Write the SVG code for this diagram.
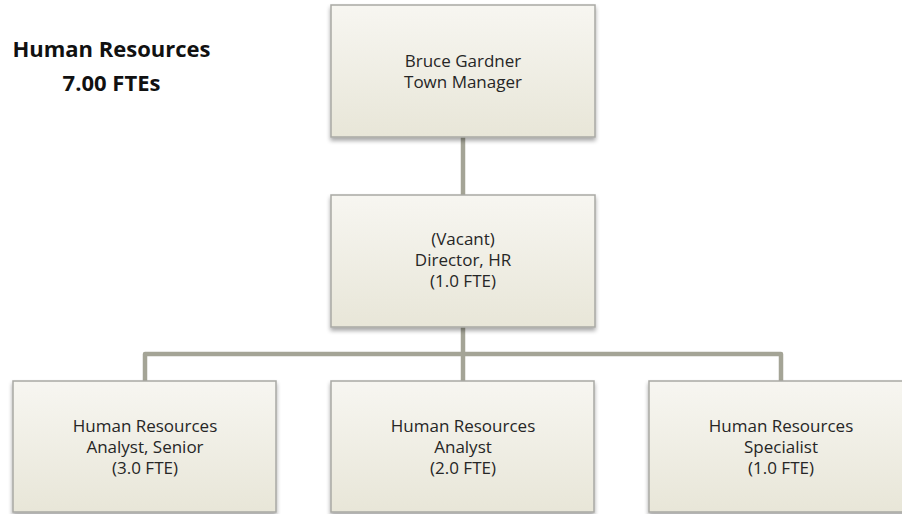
<svg xmlns="http://www.w3.org/2000/svg" width="902" height="514" viewBox="0 0 902 514">
<defs>
<linearGradient id="g" x1="0" y1="0" x2="0" y2="1">
<stop offset="0" stop-color="#f7f6f1"/>
<stop offset="1" stop-color="#e8e6d8"/>
</linearGradient>
<filter id="sh" x="-5%" y="-5%" width="112%" height="120%">
<feGaussianBlur in="SourceAlpha" stdDeviation="2"/>
<feOffset dx="0" dy="3" result="b"/>
<feComponentTransfer><feFuncA type="linear" slope="0.35"/></feComponentTransfer>
<feMerge><feMergeNode/><feMergeNode in="SourceGraphic"/></feMerge>
</filter>
</defs>
<style>
.box{fill:url(#g);stroke:#a9a9a4;stroke-width:1.5;filter:url(#sh)}
.t{font-family:"Open Sans","Liberation Sans",sans-serif;font-size:17px;fill:#262626;text-anchor:middle}
.h{font-family:"Open Sans","Liberation Sans",sans-serif;font-size:22px;font-weight:bold;fill:#111;text-anchor:middle}
.c{fill:none;stroke:#a4a496;stroke-width:4.5;stroke-linejoin:round}
</style>
<rect width="902" height="514" fill="#ffffff"/>
<g id="title">
<text class="h" x="111.5" y="57">Human Resources</text>
<text class="h" x="111.5" y="91">7.00 FTEs</text>
</g>
<g id="connectors">
<path class="c" d="M463 137 V195"/>
<path class="c" d="M463 327 V381"/>
<path class="c" d="M145 381 V354 H781 V381"/>
</g>
<g id="manager">
<rect class="box" x="331" y="5" width="264" height="132"/>
<text class="t" x="463" y="67">Bruce Gardner</text>
<text class="t" x="463" y="88">Town Manager</text>
</g>
<g id="director">
<rect class="box" x="331" y="195" width="264" height="132"/>
<text class="t" x="463" y="245">(Vacant)</text>
<text class="t" x="463" y="266">Director, HR</text>
<text class="t" x="463" y="287">(1.0 FTE)</text>
</g>
<g id="senior">
<rect class="box" x="13" y="381" width="263" height="131"/>
<text class="t" x="145" y="432">Human Resources</text>
<text class="t" x="145" y="453">Analyst, Senior</text>
<text class="t" x="145" y="474">(3.0 FTE)</text>
</g>
<g id="analyst">
<rect class="box" x="331" y="381" width="263" height="131"/>
<text class="t" x="463" y="432">Human Resources</text>
<text class="t" x="463" y="453">Analyst</text>
<text class="t" x="463" y="474">(2.0 FTE)</text>
</g>
<g id="specialist">
<rect class="box" x="649" y="381" width="264" height="131"/>
<text class="t" x="781" y="432">Human Resources</text>
<text class="t" x="781" y="453">Specialist</text>
<text class="t" x="781" y="474">(1.0 FTE)</text>
</g>
</svg>
